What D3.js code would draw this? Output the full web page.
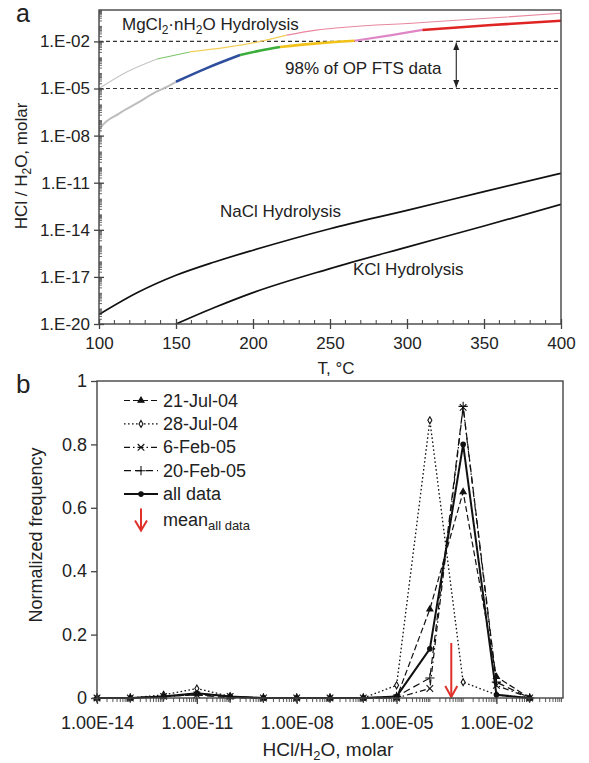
<!DOCTYPE html>
<html>
<head>
<meta charset="utf-8">
<script src="https://cdn.jsdelivr.net/npm/d3@7"></script>
<style>
  body { margin: 0; background: #fff; }
  text { font-family: "Liberation Sans", Arial, sans-serif; fill: #222; }
</style>
</head>
<body>
<div id="chart"></div>
<script>
// ---------- data, panel a : [T (degC), log10(HCl/H2O)] ----------
var mgLowGray   = [[100,-8.0],[100.7,-7.55],[113,-6.6],[125,-5.92],[137,-5.22],[143.5,-4.92],[150,-4.57]];
var mgLowBlue   = [[150,-4.57],[170,-3.7],[191.6,-2.87]];
var mgLowGreen  = [[191.6,-2.87],[205,-2.58],[217.5,-2.36]];
var mgLowYellow = [[217.5,-2.36],[240,-2.14],[266,-1.96]];
var mgLowPink   = [[266,-1.96],[290,-1.6],[310,-1.27]];
var mgLowRed    = [[310,-1.27],[355,-0.96],[400,-0.68]];

var mgUpGray    = [[100,-5.0],[118,-3.95],[137.7,-3.12]];
var mgUpGreen   = [[137.7,-3.12],[159,-2.67]];
var mgUpYellow  = [[159,-2.67],[201,-2.08],[222,-1.6]];
var mgUpPink    = [[222,-1.6],[240,-1.3],[310,-0.8],[400,-0.21]];

var naclCurve = [[100,-19.4],[125,-18.0],[150,-16.9],[175,-16.05],[200,-15.3],[250,-13.93],[300,-12.76],[350,-11.57],[400,-10.4]];
var kclCurve  = [[150,-20.0],[175,-18.95],[200,-18.0],[250,-16.47],[300,-15.1],[350,-13.76],[400,-12.38]];

var opRange = [1e-5, 1e-2];       // 98% of OP FTS data
var opArrowT = 332;

var xTicksA = [100, 150, 200, 250, 300, 350, 400];
var yTicksA = [1e-20, 1e-17, 1e-14, 1e-11, 1e-8, 1e-5, 1e-2];
var yLabelsA = ["1.E-20", "1.E-17", "1.E-14", "1.E-11", "1.E-08", "1.E-05", "1.E-02"];

// ---------- data, panel b ----------
var binExp = [-14, -13, -12, -11, -10, -9, -8, -7, -6, -5, -4, -3, -2, -1];
var jul21 = [0, 0, 0.005, 0.015, 0.005, 0, 0, 0, 0, 0, 0.28, 0.65, 0.067, 0];
var jul28 = [0, 0, 0.01, 0.03, 0.005, 0, 0, 0, 0, 0.04, 0.876, 0.05, 0.01, 0];
var feb6  = [0, 0, 0.005, 0.01, 0.005, 0, 0, 0, 0, 0, 0.03, 0.917, 0.04, 0];
var feb20 = [0, 0, 0.005, 0.01, 0, 0, 0, 0, 0, 0.005, 0.063, 0.92, 0.05, 0];
var allData = [0, 0, 0.005, 0.015, 0.005, 0, 0, 0, 0, 0.005, 0.155, 0.80, 0.01, 0];
var meanAll = 4.4e-4;
var seriesNames = ["21-Jul-04", "28-Jul-04", "6-Feb-05", "20-Feb-05", "all data"];

var xTicksB = [1e-14, 1e-11, 1e-8, 1e-5, 1e-2];
var xLabelsB = ["1.00E-14", "1.00E-11", "1.00E-08", "1.00E-05", "1.00E-02"];
var yTicksB = [0, 0.2, 0.4, 0.6, 0.8, 1];
var yLabelsB = ["0", "0.2", "0.4", "0.6", "0.8", "1"];

// ---------- layout ----------
var width = 589, height = 763;
var pa = {left: 99, right: 561, top: 10, bottom: 324};
var pb = {left: 97, right: 563, top: 381, bottom: 698};
var frameColor = "#444";
var red = "#e0302a";

var svg = d3.select("#chart").append("svg")
  .attr("width", width).attr("height", height);
svg.append("rect").attr("width", width).attr("height", height).attr("fill", "#fff");

svg.append("defs").append("marker")
   .attr("id", "ahead").attr("viewBox", "0 0 10 10")
   .attr("refX", 10).attr("refY", 5)
   .attr("markerWidth", 7).attr("markerHeight", 7)
   .attr("orient", "auto-start-reverse")
   .append("path").attr("d", "M0,1 L10,5 L0,9 Z").attr("fill", "#222");

// ================= panel a =================
var xA = d3.scaleLinear().domain([100, 400]).range([pa.left, pa.right]);
var yA = d3.scaleLog().domain([1e-20, 1]).range([pa.bottom, pa.top]);

svg.append("clipPath").attr("id", "clipA").append("rect")
   .attr("x", pa.left).attr("y", pa.top)
   .attr("width", pa.right - pa.left).attr("height", pa.bottom - pa.top);

var gA = svg.append("g");
var plotA = gA.append("g").attr("clip-path", "url(#clipA)");

// dashed range lines
plotA.selectAll(".opline").data(opRange).enter().append("line")
  .attr("x1", pa.left).attr("x2", pa.right)
  .attr("y1", function(d) { return yA(d); }).attr("y2", function(d) { return yA(d); })
  .attr("stroke", "#333").attr("stroke-width", 1.2).attr("stroke-dasharray", "4,3");

var lineA = d3.line()
  .x(function(d) { return xA(d[0]); })
  .y(function(d) { return yA(Math.pow(10, d[1])); })
  .curve(d3.curveMonotoneX);

var upperSegs = [
  {pts: mgUpGray, color: "#c4c4c4"},
  {pts: mgUpGreen, color: "#7cc46a"},
  {pts: mgUpYellow, color: "#f2cf58"},
  {pts: mgUpPink, color: "#e8879e"}
];
var lowerSegs = [
  {pts: mgLowGray, color: "#bdbdbd", w: 2},
  {pts: mgLowBlue, color: "#2f4f9e", w: 2.6},
  {pts: mgLowGreen, color: "#3aad3a", w: 2.6},
  {pts: mgLowYellow, color: "#f2c218", w: 2.6},
  {pts: mgLowPink, color: "#de86c6", w: 2.2},
  {pts: mgLowRed, color: "#e02424", w: 2.6}
];
plotA.selectAll(".mgup").data(upperSegs).enter().append("path")
  .attr("fill", "none").attr("stroke", function(d) { return d.color; })
  .attr("stroke-width", 1.1).attr("d", function(d) { return lineA(d.pts); });
plotA.selectAll(".mglow").data(lowerSegs).enter().append("path")
  .attr("fill", "none").attr("stroke", function(d) { return d.color; })
  .attr("stroke-width", function(d) { return d.w; }).attr("d", function(d) { return lineA(d.pts); });

plotA.append("path").datum(naclCurve).attr("fill", "none")
  .attr("stroke", "#111").attr("stroke-width", 1.7).attr("d", lineA);
plotA.append("path").datum(kclCurve).attr("fill", "none")
  .attr("stroke", "#111").attr("stroke-width", 1.7).attr("d", lineA);

// double arrow
gA.append("line")
  .attr("x1", xA(opArrowT)).attr("x2", xA(opArrowT))
  .attr("y1", yA(opRange[1]) + 1).attr("y2", yA(opRange[0]) - 1)
  .attr("stroke", "#222").attr("stroke-width", 1.1)
  .attr("marker-start", "url(#ahead)").attr("marker-end", "url(#ahead)");

// frame
gA.append("rect").attr("x", pa.left).attr("y", pa.top)
  .attr("width", pa.right - pa.left).attr("height", pa.bottom - pa.top)
  .attr("fill", "none").attr("stroke", frameColor).attr("stroke-width", 1.4);

// y minor ticks (inside)
var minorA = [];
for (var e = -20; e < 0; e++) for (var m = 2; m <= 9; m++) minorA.push(m * Math.pow(10, e));
gA.append("g").selectAll("line").data(minorA).enter().append("line")
  .attr("x1", pa.left).attr("x2", pa.left + 3)
  .attr("y1", function(d) { return yA(d); }).attr("y2", function(d) { return yA(d); })
  .attr("stroke", frameColor).attr("stroke-width", 0.8);

var yAxisA = gA.append("g").attr("transform", "translate(" + pa.left + ",0)")
  .call(d3.axisLeft(yA).tickValues(yTicksA).tickSize(5)
        .tickFormat(function(d, i) { return yLabelsA[i]; }));
yAxisA.select(".domain").remove();
yAxisA.selectAll(".tick line").attr("x2", -5).attr("x1", 5).attr("stroke", frameColor).attr("stroke-width", 1.3);
yAxisA.selectAll(".tick text").attr("x", -9).attr("font-size", 17).attr("fill", "#222")
  .style("font-family", "Liberation Sans, Arial, sans-serif");

// x minor ticks (inside)
var minorXA = d3.range(110, 400, 10).filter(function(d) { return d % 50 !== 0; });
gA.append("g").selectAll("line").data(minorXA).enter().append("line")
  .attr("x1", function(d) { return xA(d); }).attr("x2", function(d) { return xA(d); })
  .attr("y1", pa.bottom).attr("y2", pa.bottom - 4)
  .attr("stroke", frameColor).attr("stroke-width", 1);

var xAxisA = gA.append("g").attr("transform", "translate(0," + pa.bottom + ")")
  .call(d3.axisBottom(xA).tickValues(xTicksA).tickSize(5).tickFormat(d3.format("d")));
xAxisA.select(".domain").remove();
xAxisA.selectAll(".tick line").attr("y1", -5).attr("y2", 5).attr("stroke", frameColor).attr("stroke-width", 1.3);
xAxisA.selectAll(".tick text").attr("y", 13).attr("dy", "0.71em").attr("font-size", 17).attr("fill", "#222")
  .style("font-family", "Liberation Sans, Arial, sans-serif");

// labels panel a
svg.append("text").attr("x", 16).attr("y", 22).attr("font-size", 25).text("a");
svg.append("text").attr("x", 336).attr("y", 374).attr("font-size", 17)
  .attr("text-anchor", "middle").text("T, °C");
svg.append("text").attr("transform", "translate(27,166) rotate(-90)")
  .attr("text-anchor", "middle").attr("font-size", 17)
  .html('HCl / H<tspan font-size="12" dy="4">2</tspan><tspan dy="-4">O, molar</tspan>');
svg.append("text").attr("x", 122).attr("y", 30).attr("font-size", 17)
  .html('MgCl<tspan font-size="12" dy="4">2</tspan><tspan dy="-4">·nH</tspan><tspan font-size="12" dy="4">2</tspan><tspan dy="-4">O Hydrolysis</tspan>');
svg.append("text").attr("x", 285).attr("y", 74).attr("font-size", 17).text("98% of OP FTS data");
svg.append("text").attr("x", 220).attr("y", 217).attr("font-size", 17).text("NaCl Hydrolysis");
svg.append("text").attr("x", 353).attr("y", 275).attr("font-size", 17).text("KCl Hydrolysis");

// ================= panel b =================
var xB = d3.scaleLog().domain([1e-14, 1]).range([pb.left, pb.right]);
var yB = d3.scaleLinear().domain([0, 1]).range([pb.bottom, pb.top]);
var gB = svg.append("g");

var series = [
  {name: seriesNames[0], vals: jul21, dash: "6,3", w: 1.2, sym: d3.symbolTriangle, size: 16, fill: "#111"},
  {name: seriesNames[1], vals: jul28, dash: "1.6,2.4", w: 1.3, sym: d3.symbolDiamond, size: 14, fill: "#fff"},
  {name: seriesNames[2], vals: feb6, dash: "6,3,1.5,3", w: 1.2, sym: d3.symbolTimes, size: 30, fill: "none"},
  {name: seriesNames[3], vals: feb20, dash: "7,4", w: 1.2, sym: d3.symbolPlus, size: 30, fill: "none"},
  {name: seriesNames[4], vals: allData, dash: null, w: 2, sym: d3.symbolCircle, size: 16, fill: "#111"}
];

var lineB = d3.line()
  .x(function(d, i) { return xB(Math.pow(10, binExp[i])); })
  .y(function(d) { return yB(d); });

series.forEach(function(s) {
  gB.append("path").datum(s.vals).attr("fill", "none")
    .attr("stroke", "#111").attr("stroke-width", s.w)
    .attr("stroke-dasharray", s.dash).attr("d", lineB);
  gB.selectAll(null).data(s.vals).enter().append("path")
    .attr("transform", function(d, i) {
      return "translate(" + xB(Math.pow(10, binExp[i])) + "," + yB(d) + ")"; })
    .attr("d", d3.symbol().type(s.sym).size(s.size))
    .attr("fill", s.fill).attr("stroke", "#111").attr("stroke-width", 1.1);
});

// mean arrow
gB.append("line")
  .attr("x1", xB(meanAll)).attr("x2", xB(meanAll))
  .attr("y1", pb.bottom - 55).attr("y2", pb.bottom - 1)
  .attr("stroke", red).attr("stroke-width", 2);
gB.append("path")
  .attr("d", "M" + (xB(meanAll) - 6) + "," + (pb.bottom - 12) + " L" + xB(meanAll) + "," + (pb.bottom - 1) +
             " L" + (xB(meanAll) + 6) + "," + (pb.bottom - 12))
  .attr("fill", "none").attr("stroke", red).attr("stroke-width", 2);

// frame
gB.append("rect").attr("x", pb.left).attr("y", pb.top)
  .attr("width", pb.right - pb.left).attr("height", pb.bottom - pb.top)
  .attr("fill", "none").attr("stroke", frameColor).attr("stroke-width", 1.4);

var yAxisB = gB.append("g").attr("transform", "translate(" + pb.left + ",0)")
  .call(d3.axisLeft(yB).tickValues(yTicksB).tickSize(6)
        .tickFormat(function(d, i) { return yLabelsB[i]; }));
yAxisB.select(".domain").remove();
yAxisB.selectAll(".tick line").attr("stroke", frameColor).attr("stroke-width", 1.3);
yAxisB.selectAll(".tick text").attr("x", -10).attr("font-size", 18).attr("fill", "#222")
  .style("font-family", "Liberation Sans, Arial, sans-serif");

var minorB = [];
for (var e2 = -14; e2 < 0; e2++) for (var m2 = 1; m2 <= 9; m2++) minorB.push(m2 * Math.pow(10, e2));
gB.append("g").selectAll("line").data(minorB).enter().append("line")
  .attr("x1", function(d) { return xB(d); }).attr("x2", function(d) { return xB(d); })
  .attr("y1", pb.bottom).attr("y2", pb.bottom + 4)
  .attr("stroke", frameColor).attr("stroke-width", 0.9);

var xAxisB = gB.append("g").attr("transform", "translate(0," + pb.bottom + ")")
  .call(d3.axisBottom(xB).tickValues(xTicksB).tickSize(6)
        .tickFormat(function(d, i) { return xLabelsB[i]; }));
xAxisB.select(".domain").remove();
xAxisB.selectAll(".tick line").attr("stroke", frameColor).attr("stroke-width", 1.3);
xAxisB.selectAll(".tick text").attr("y", 18).attr("dy", "0.71em").attr("font-size", 18).attr("fill", "#222")
  .style("font-family", "Liberation Sans, Arial, sans-serif");

// legend
var legX = 124, legRow = 23.4, legTop = 406.5;
var leg = gB.append("g");
series.forEach(function(s, i) {
  var yy = legTop + i * legRow;
  leg.append("line").attr("x1", legX).attr("x2", legX + 34)
    .attr("y1", yy - 6).attr("y2", yy - 6)
    .attr("stroke", "#111").attr("stroke-width", s.w).attr("stroke-dasharray", s.dash);
  leg.append("path").attr("transform", "translate(" + (legX + 17) + "," + (yy - 6) + ")")
    .attr("d", d3.symbol().type(s.sym).size(s.size))
    .attr("fill", s.fill).attr("stroke", "#111").attr("stroke-width", 1.1);
  leg.append("text").attr("x", legX + 39).attr("y", yy).attr("font-size", 18).text(s.name);
});
var meanY = legTop + 5 * legRow + 2;
leg.append("line").attr("x1", legX + 17).attr("x2", legX + 17)
  .attr("y1", meanY - 17).attr("y2", meanY + 5)
  .attr("stroke", red).attr("stroke-width", 2);
leg.append("path")
  .attr("d", "M" + (legX + 11) + "," + (meanY - 5) + " L" + (legX + 17) + "," + (meanY + 5) + " L" + (legX + 23) + "," + (meanY - 5))
  .attr("fill", "none").attr("stroke", red).attr("stroke-width", 2);
leg.append("text").attr("x", legX + 39).attr("y", meanY).attr("font-size", 18)
  .html('mean<tspan font-size="13" dy="4">all data</tspan>');

// labels panel b
svg.append("text").attr("x", 16).attr("y", 393).attr("font-size", 26).text("b");
svg.append("text").attr("transform", "translate(42,535) rotate(-90)")
  .attr("text-anchor", "middle").attr("font-size", 18).text("Normalized frequency");
svg.append("text").attr("x", 328).attr("y", 756).attr("text-anchor", "middle").attr("font-size", 19)
  .html('HCl/H<tspan font-size="13" dy="4">2</tspan><tspan dy="-4">O, molar</tspan>');
</script>
</body>
</html>
